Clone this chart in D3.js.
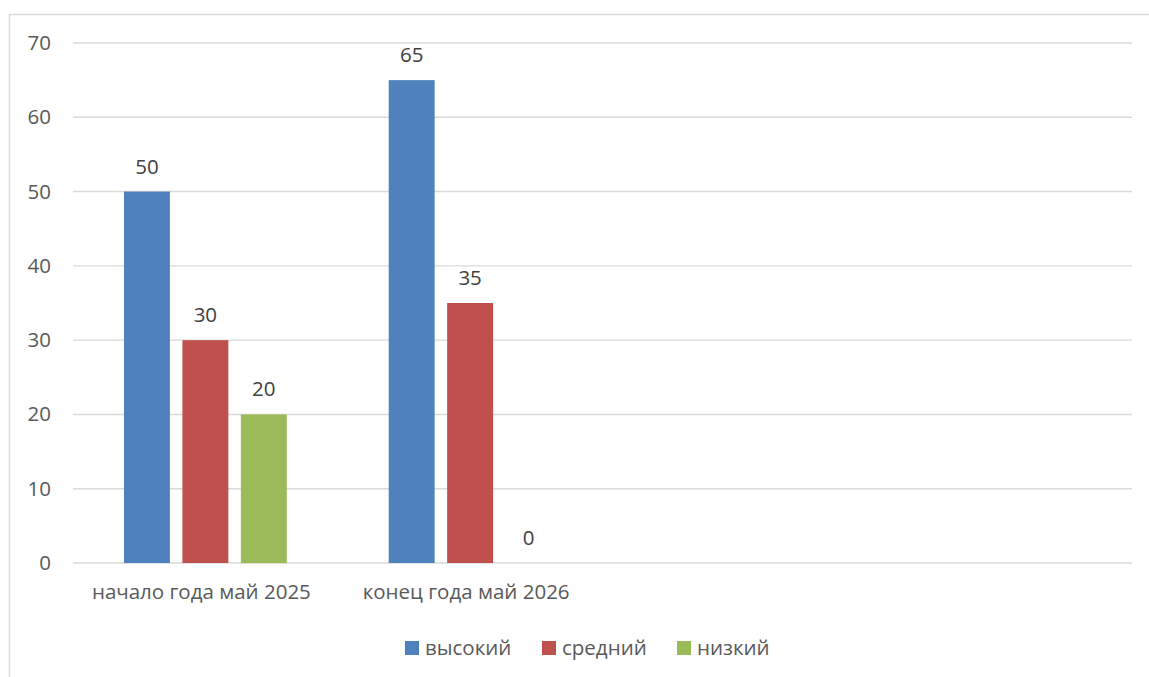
<!DOCTYPE html>
<html>
<head>
<meta charset="utf-8">
<script src="https://cdn.jsdelivr.net/npm/d3@7"></script>
<style>
  html, body { margin: 0; padding: 0; background: #fff; }
  svg { display: block; font-family: "Open Sans", "Noto Sans", sans-serif; }
</style>
</head>
<body>
<div id="chart"></div>
<script>
// chart data
const categories = ["начало года май 2025", "конец года май 2026", "", ""];
const seriesNames = ["высокий", "средний", "низкий"];
const seriesColors = ["#4F81BD", "#C0504D", "#9BBB59"];
const vysokiy = [50, 65, null, null];
const sredniy = [30, 35, null, null];
const nizkiy = [20, 0, null, null];
const yTicks = [0, 10, 20, 30, 40, 50, 60, 70];

const seriesValues = [vysokiy, sredniy, nizkiy];

const width = 1149, height = 677;
const fontSize = "20.5px";
const svg = d3.select("#chart").append("svg")
    .attr("width", width)
    .attr("height", height);

// outer chart border (only top and left are visible in the frame)
svg.append("path")
    .attr("d", `M9.5,${height} L9.5,14.5 L${width},14.5`)
    .attr("fill", "none")
    .attr("stroke", "#d9d9d9")
    .attr("stroke-width", 1.5);

const plot = { left: 73, right: 1132, top: 43, bottom: 563 };

const y = d3.scaleLinear().domain([0, 70]).range([plot.bottom, plot.top]);

const idx = categories.map((c, i) => i);
const x0 = d3.scaleBand().domain(idx).range([plot.left, plot.right]);
const x1 = d3.scaleBand().domain(seriesNames)
    .range([0, x0.bandwidth()])
    .paddingInner(0.214)
    .paddingOuter(0.872);

// gridlines
svg.append("g")
    .selectAll("line")
    .data(yTicks)
    .enter()
    .append("line")
    .attr("x1", plot.left)
    .attr("x2", plot.right)
    .attr("y1", d => y(d))
    .attr("y2", d => y(d))
    .attr("stroke", "#d9d9d9")
    .attr("stroke-width", 1.4);

// y axis labels
const yAxis = d3.axisLeft(y).tickValues(yTicks).tickSize(0).tickPadding(0);
const yg = svg.append("g")
    .attr("transform", `translate(${plot.left - 22},0)`)
    .call(yAxis);
yg.select(".domain").remove();
yg.selectAll("text")
    .attr("fill", "#595959")
    .style("font-size", fontSize)
    .style("font-family", "\"Open Sans\", \"Noto Sans\", sans-serif");

// x axis labels
const xAxis = d3.axisBottom(x0).tickFormat(i => categories[i]).tickSize(0).tickPadding(0);
const xg = svg.append("g")
    .attr("transform", `translate(-4,${plot.bottom + 21})`)
    .call(xAxis);
xg.select(".domain").remove();
xg.selectAll("text")
    .attr("fill", "#595959")
    .style("font-size", fontSize)
    .style("font-family", "\"Open Sans\", \"Noto Sans\", sans-serif");

// bars
const flat = [];
seriesValues.forEach((vals, s) => {
    vals.forEach((v, i) => {
        if (v !== null) flat.push({ s, i, v });
    });
});

const groups = svg.append("g");
groups.selectAll("rect")
    .data(flat)
    .enter()
    .append("rect")
    .attr("x", d => x0(d.i) + x1(seriesNames[d.s]))
    .attr("width", x1.bandwidth())
    .attr("y", d => y(d.v))
    .attr("height", d => y(0) - y(d.v))
    .attr("fill", d => seriesColors[d.s]);

// data labels
groups.selectAll("text")
    .data(flat)
    .enter()
    .append("text")
    .attr("x", d => x0(d.i) + x1(seriesNames[d.s]) + x1.bandwidth() / 2)
    .attr("y", d => y(d.v) - 18)
    .attr("text-anchor", "middle")
    .attr("fill", "#404040")
    .style("font-size", fontSize)
    .text(d => d.v);

// legend
const legendX = [405, 542, 677];
const legend = svg.append("g")
    .selectAll("g")
    .data(seriesNames)
    .enter()
    .append("g")
    .attr("transform", (d, i) => `translate(${legendX[i]},641)`);
legend.append("rect")
    .attr("width", 14)
    .attr("height", 14)
    .attr("fill", (d, i) => seriesColors[i]);
legend.append("text")
    .attr("x", 20)
    .attr("y", 14)
    .attr("fill", "#595959")
    .style("font-size", fontSize)
    .text(d => d);
</script>
</body>
</html>
